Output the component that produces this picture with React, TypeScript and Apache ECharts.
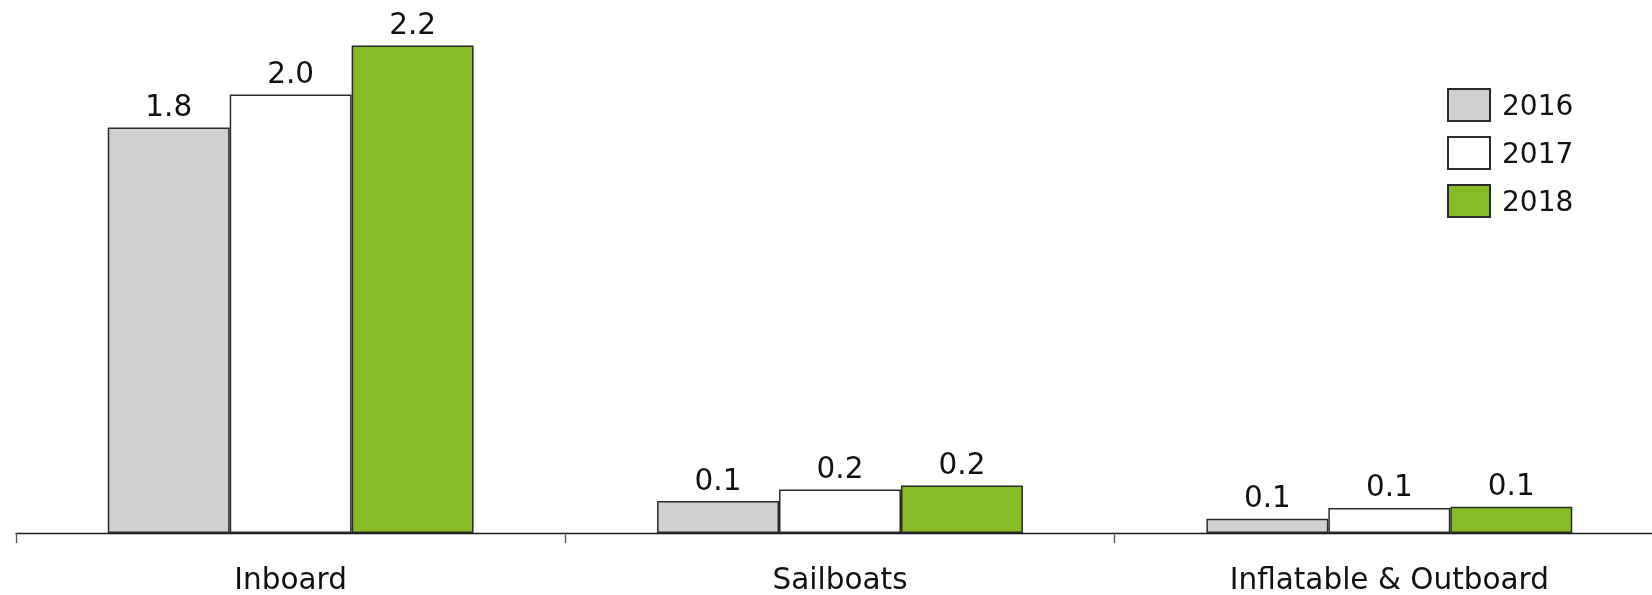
import React, { useEffect, useRef } from "react";
import * as echarts from "echarts";

const categories = ["Inboard", "Sailboats", "Inflatable & Outboard"];
const years = ["2016", "2017", "2018"];
const values2016 = [1.826, 0.144, 0.064];
const values2017 = [1.975, 0.196, 0.113];
const values2018 = [2.195, 0.214, 0.118];
const colors = ["#d0d0ce", "#ffffff", "#86bc25"];

const FONT = "DejaVu Sans";

export default function App() {
  const ref = useRef<HTMLDivElement>(null);
  useEffect(() => {
    document.body.style.margin = "0";
    document.body.style.overflow = "hidden";
    const chart = echarts.init(ref.current!, null, { renderer: "svg" });
    const seriesData = [values2016, values2017, values2018];
    chart.setOption({
      animation: false,
      textStyle: { fontFamily: FONT },
      grid: { left: 16, right: 0, top: 0, bottom: 62, containLabel: false },
      legend: {
        orient: "vertical",
        left: 1447,
        top: 88,
        padding: 0,
        itemWidth: 42,
        itemHeight: 32,
        itemGap: 14,
        icon: "rect",
        textStyle: { fontSize: 28, color: "#111", fontFamily: FONT, padding: [0, 0, 0, 7] },
        data: years,
      },
      xAxis: {
        type: "category",
        data: categories,
        axisLine: { show: true, lineStyle: { color: "#1a1a1a", width: 1.3 } },
        axisTick: { show: true, length: 10, lineStyle: { color: "#555", width: 1.3 } },
        axisLabel: { fontSize: 29.5, color: "#111", margin: 31, fontFamily: FONT },
      },
      yAxis: {
        type: "value",
        min: 0,
        max: 2.4,
        show: false,
        splitLine: { show: false },
      },
      series: years.map((y, i) => ({
        name: y,
        type: "bar",
        data: seriesData[i],
        barGap: "0%",
        barCategoryGap: "33.4%",
        itemStyle: { color: colors[i], borderColor: "#2a2a2a", borderWidth: 1.5 },
        label: {
          show: true,
          position: "top",
          distance: 6.5,
          fontSize: 29.5,
          color: "#111",
          fontFamily: FONT,
          formatter: (p: any) => Number(p.value).toFixed(1),
        },
      })),
    });
    return () => chart.dispose();
  }, []);
  return (
    <div
      ref={ref}
      style={{ position: "fixed", left: 0, top: 0, width: 1664, height: 595 }}
    />
  );
}
